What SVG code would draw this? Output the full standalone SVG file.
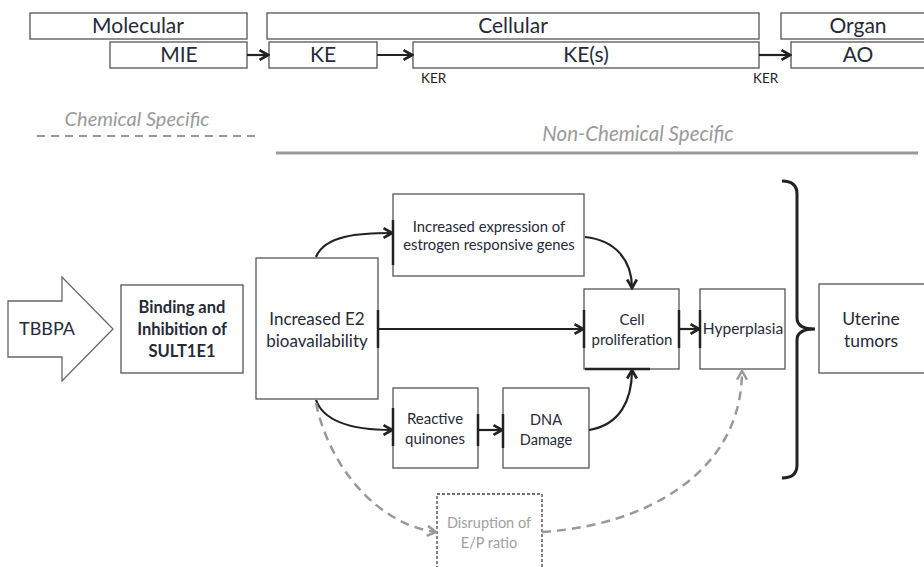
<svg xmlns="http://www.w3.org/2000/svg" width="924" height="567" viewBox="0 0 924 567">
<defs>
<style>
.box{fill:#fff;stroke:#555;stroke-width:1.3}
.t{font-family:Lato,"Open Sans","Liberation Sans",sans-serif;fill:#262a38;text-anchor:middle}
.hd{font-size:21px}
.sm{font-size:21px}
.ker{font-size:13.5px;font-family:Lato,"Liberation Sans",sans-serif;fill:#222}
.it{font-style:italic;fill:#9a9a9a}
.conn{fill:none;stroke:#222;stroke-width:2.2}
.dash{fill:none;stroke:#999;stroke-width:2.5;stroke-dasharray:9 6}
.mark{stroke:#222;stroke-width:2.5}
</style>
<marker id="ah" viewBox="0 0 10 10" refX="8.5" refY="5" markerWidth="5.5" markerHeight="5.5" orient="auto" markerUnits="strokeWidth">
<path d="M1.5,1 L8.5,5 L1.5,9" fill="none" stroke="#222" stroke-width="2.2"/>
</marker>
<marker id="ahg" viewBox="0 0 10 10" refX="8.5" refY="5" markerWidth="5" markerHeight="5" orient="auto" markerUnits="strokeWidth">
<path d="M1.5,1 L8.5,5 L1.5,9" fill="none" stroke="#999" stroke-width="2"/>
</marker>
</defs>
<rect width="924" height="567" fill="#fff"/>

<g id="levels">
<g id="molecular"><rect class="box" x="30" y="13" width="217" height="26"/><text class="t hd" x="138" y="33">Molecular</text></g>
<g id="cellular"><rect class="box" x="267" y="13" width="492" height="26"/><text class="t hd" x="513" y="33">Cellular</text></g>
<g id="organ"><rect class="box" x="781" y="13" width="150" height="26"/><text class="t hd" x="858" y="33">Organ</text></g>
<g id="mie"><rect class="box" x="110" y="42" width="137" height="26"/><text class="t sm" x="179" y="62">MIE</text></g>
<g id="ke"><rect class="box" x="269" y="42" width="108" height="26"/><text class="t sm" x="323" y="62">KE</text></g>
<g id="kes"><rect class="box" x="413" y="42" width="346" height="26"/><text class="t sm" x="586" y="62">KE(s)</text></g>
<g id="ao"><rect class="box" x="791" y="42" width="140" height="26"/><text class="t sm" x="858" y="62">AO</text></g>
<text class="ker" x="421" y="83">KER</text>
<text class="ker" x="753" y="83">KER</text>
</g>

<g id="legend">
<text class="t it" x="137" y="126" font-size="20">Chemical Specific</text>
<line x1="37" y1="136" x2="256" y2="136" stroke="#999" stroke-width="2" stroke-dasharray="8 6"/>
<text class="t it" x="638" y="141" font-size="20.5">Non-Chemical Specific</text>
<line x1="276" y1="153" x2="918" y2="153" stroke="#999" stroke-width="3"/>
</g>

<g id="tbbpa">
<path d="M8,301 L62,301 L62,277 L113,329 L62,381 L62,357 L8,357 Z" fill="#fff" stroke="#666" stroke-width="1.3"/>
<text class="t" x="47" y="335" font-size="18">TBBPA</text>
</g>
<g id="binding">
<rect class="box" x="121" y="285" width="122" height="88"/>
<text class="t" x="182" y="313" font-size="16.5" font-weight="bold">Binding and</text>
<text class="t" x="182" y="335" font-size="16.5" font-weight="bold">Inhibition of</text>
<text class="t" x="182" y="357" font-size="16.5" font-weight="bold">SULT1E1</text>
</g>
<g id="e2">
<rect class="box" x="256" y="258" width="122" height="141"/>
<text class="t" x="317" y="325" font-size="17">Increased E2</text>
<text class="t" x="317" y="347" font-size="17">bioavailability</text>
<line class="mark" x1="378" y1="310" x2="378" y2="348"/>
</g>
<g id="expression">
<rect class="box" x="393" y="194" width="191" height="82"/>
<text class="t" x="489" y="232" font-size="14.8">Increased expression of</text>
<text class="t" x="489" y="250" font-size="14.8">estrogen responsive genes</text>
<line class="mark" x1="393" y1="220" x2="393" y2="265"/>
</g>
<g id="cell">
<rect class="box" x="584" y="289" width="95" height="80"/>
<text class="t" x="632" y="325" font-size="15">Cell</text>
<text class="t" x="632" y="345" font-size="15">proliferation</text>
<line class="mark" x1="584" y1="310" x2="584" y2="348"/>
<line class="mark" x1="679" y1="310" x2="679" y2="348"/>
<line class="mark" x1="585" y1="369" x2="650" y2="369"/>
</g>
<g id="hyperplasia">
<rect class="box" x="700" y="289" width="85" height="80"/>
<text class="t" x="743" y="334" font-size="15.5">Hyperplasia</text>
<line class="mark" x1="700" y1="310" x2="700" y2="348"/>
</g>
<g id="tumors">
<rect class="box" x="819" y="284" width="110" height="89"/>
<text class="t" x="871" y="325" font-size="17.5">Uterine</text>
<text class="t" x="871" y="347" font-size="17.5">tumors</text>
</g>
<g id="quinones">
<rect class="box" x="393" y="388" width="85" height="80"/>
<text class="t" x="435" y="424" font-size="15">Reactive</text>
<text class="t" x="435" y="444" font-size="15">quinones</text>
<line class="mark" x1="393" y1="408" x2="393" y2="446"/>
<line class="mark" x1="478" y1="414" x2="478" y2="446"/>
</g>
<g id="dna">
<rect class="box" x="503" y="388" width="86" height="80"/>
<text class="t" x="546" y="425" font-size="14.5">DNA</text>
<text class="t" x="546" y="445" font-size="14.5">Damage</text>
<line class="mark" x1="503" y1="414" x2="503" y2="448"/>
</g>
<g id="disruption">
<rect x="437" y="494" width="105" height="80" fill="#fff" stroke="#444" stroke-width="1.3" stroke-dasharray="3 2"/>
<text class="t" x="489" y="528" font-size="14.5" style="fill:#a0a0a0">Disruption of</text>
<text class="t" x="489" y="548" font-size="14.5" style="fill:#a0a0a0">E/P ratio</text>
</g>
<g id="bracket">
<path d="M782,181 Q797,181 797,194 L797,318 Q797,329 815,329 Q797,329 797,340 L797,465 Q797,478 782,478" fill="none" stroke="#222" stroke-width="3"/>
</g>

<g id="connectors">
<line class="conn" x1="247" y1="55" x2="268" y2="55" marker-end="url(#ah)"/>
<line class="conn" x1="377" y1="55" x2="412" y2="55" marker-end="url(#ah)"/>
<line class="conn" x1="759" y1="55" x2="790" y2="55" marker-end="url(#ah)"/>
<path class="conn" d="M316,257 C325,235 360,233 392,233" marker-end="url(#ah)"/>
<line class="conn" x1="378" y1="329" x2="583" y2="329" marker-end="url(#ah)"/>
<path class="conn" d="M316,400 C325,425 360,430 392,430" marker-end="url(#ah)"/>
<line class="conn" x1="478" y1="430" x2="502" y2="430" marker-end="url(#ah)"/>
<path class="conn" d="M589,430 C620,425 632,400 632,370" marker-end="url(#ah)"/>
<path class="conn" d="M585,237 C615,240 632,260 632,288" marker-end="url(#ah)"/>
<line class="conn" x1="679" y1="329" x2="699" y2="329" marker-end="url(#ah)"/>
<path class="dash" d="M316,403 C330,470 380,525 436,532" marker-end="url(#ahg)"/>
<path class="dash" d="M542,532 C650,525 742,470 742,371" marker-end="url(#ahg)"/>
</g>
</svg>
